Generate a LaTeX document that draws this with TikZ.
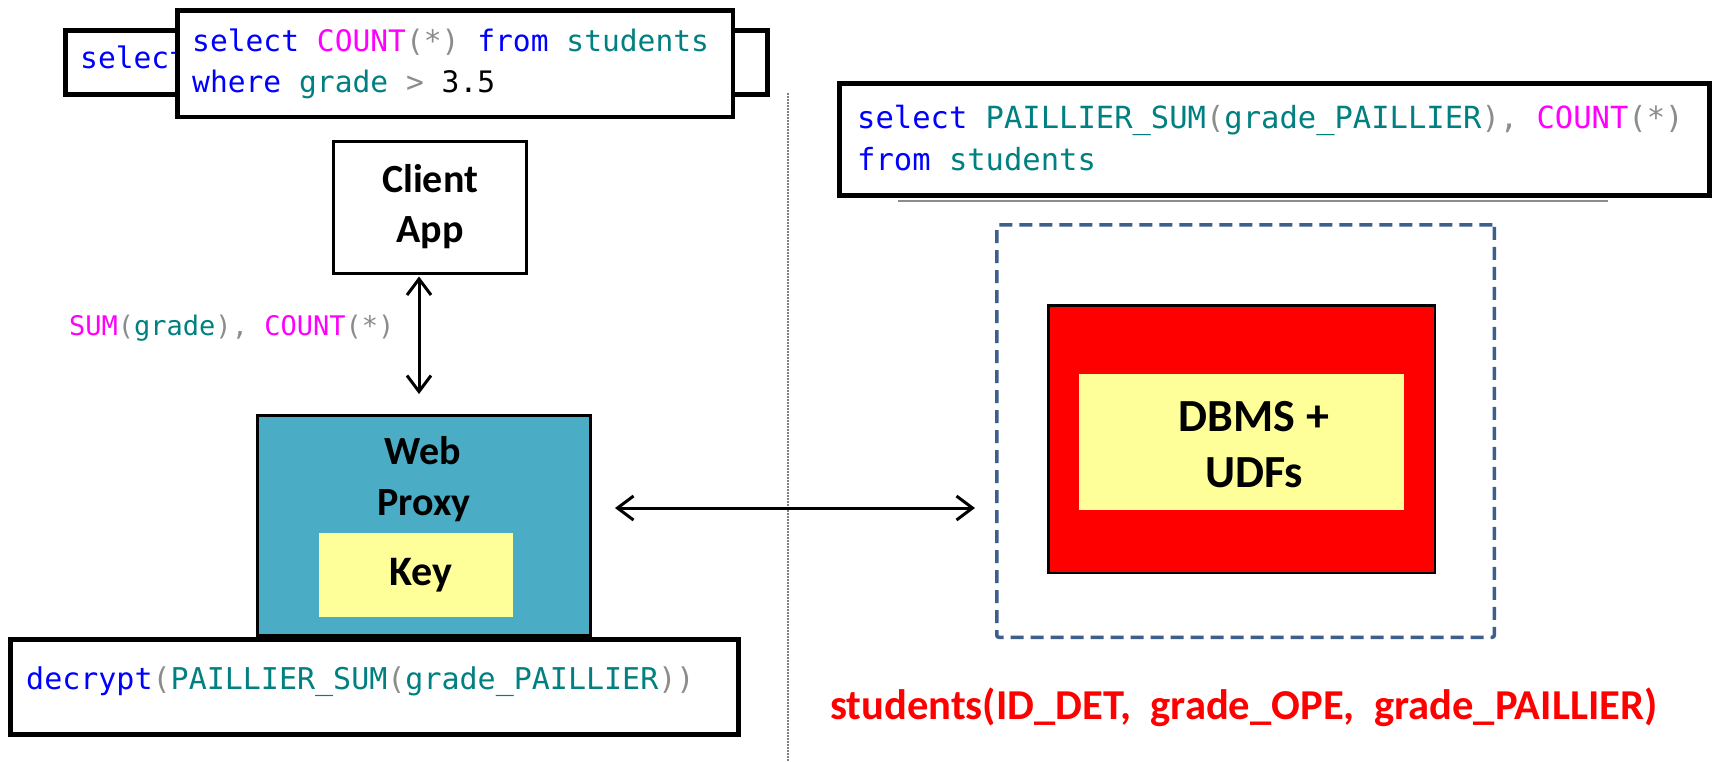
\documentclass[tikz,border=0pt]{standalone}
\usepackage{fontspec}
\setmainfont{Carlito}
\newfontfamily\codefont{DejaVu Sans Mono}
\usetikzlibrary{arrows.meta}
\definecolor{ckwc}{HTML}{0000FF}
\definecolor{cfnc}{HTML}{FF00FF}
\definecolor{cidc}{HTML}{008080}
\definecolor{cpuc}{HTML}{8C8C8C}
\definecolor{proxyc}{HTML}{4BACC6}
\definecolor{keyc}{HTML}{FFFF99}
\definecolor{dashc}{HTML}{3E5F8C}
\definecolor{redc}{HTML}{FF0000}
\newcommand{\ckw}[1]{\textcolor{ckwc}{#1}}
\newcommand{\cfn}[1]{\textcolor{cfnc}{#1}}
\newcommand{\cid}[1]{\textcolor{cidc}{#1}}
\newcommand{\cpu}[1]{\textcolor{cpuc}{#1}}
\tikzset{
  codebox/.style={draw=black, line width=5pt, fill=white, inner sep=0pt},
  plainbox/.style={draw=black, line width=3pt, fill=white, inner sep=0pt},
  codetext/.style={inner sep=0pt, font=\codefont\fontsize{29.6pt}{41pt}\selectfont},
  bigtext/.style={inner sep=0pt, align=center, font=\bfseries\fontsize{40pt}{50pt}\selectfont},
  dblarrow/.style={line width=3pt, {Straight Barb[length=16pt,width=24pt]}-{Straight Barb[length=16pt,width=24pt]}},
}
\begin{document}
\begin{tikzpicture}[x=1pt,y=-1pt]
\fill[white] (0,0) rectangle (1719,761);
\useasboundingbox (0,0) rectangle (1719,761);

% separator
\coordinate (sepTop) at (788,93);
\coordinate (sepBot) at (788,761);
\draw[gray, line width=1.2pt, dash pattern=on 1.5pt off 1.5pt] (sepTop) -- (sepBot);

% top-left query boxes
\node[codebox, minimum width=702pt, minimum height=64pt] (qback) at (416.5,62.5) {};
\node[codetext, anchor=base west] (qbackt) at (80,68) {\ckw{select}};
\node[codebox, line width=4.5pt, minimum width=555.5pt, minimum height=106.5pt] (qfront) at (455,63.5) {};
\node[codetext, anchor=base west] (qline1) at (192,51) {\ckw{select} \cfn{COUNT}\cpu{(*)} \ckw{from} \cid{students}};
\node[codetext, anchor=base west] (qline2) at (192,92) {\ckw{where} \cid{grade} \cpu{>} 3.5};

% client app
\node[plainbox, minimum width=193pt, minimum height=132pt, bigtext] (client) at (430,207) {Client\\App};

% label
\node[codetext, anchor=base west, font=\codefont\fontsize{27pt}{35pt}\selectfont] (sumlbl) at (69,335) {\cfn{SUM}\cpu{(}\cid{grade}\cpu{),} \cfn{COUNT}\cpu{(*)}};

% web proxy
\node[draw=black, line width=3pt, fill=proxyc, minimum width=333pt, minimum height=220pt, inner sep=0pt] (proxy) at (424,525.5) {};
\node[bigtext, anchor=base] (webt) at (423,464) {Web};
\node[bigtext, anchor=base] (proxyt) at (424,515) {Proxy};
\node[fill=keyc, minimum width=194pt, minimum height=84pt, inner sep=0pt, font=\bfseries\fontsize{42pt}{50pt}\selectfont] (key) at (416,575) {\hspace{10pt}Key};

% decrypt box
\node[codebox, minimum width=728pt, minimum height=95pt] (decbox) at (374.5,687) {};
\node[codetext, anchor=base west, font=\codefont\fontsize{30pt}{40pt}\selectfont] (dect) at (26,689) {\ckw{decrypt}\cpu{(}\cid{PAILLIER\_SUM}\cpu{(}\cid{grade\_PAILLIER}\cpu{))}};

% right query box
\draw[black!45, line width=1.5pt] (898,201) -- (1608,201);
\node[codebox, minimum width=870pt, minimum height=112pt] (rq) at (1274.5,139.5) {};
\node[codetext, anchor=base west, font=\codefont\fontsize{30.5pt}{42pt}\selectfont] (rq1) at (857,128) {\ckw{select} \cid{PAILLIER\_SUM}\cpu{(}\cid{grade\_PAILLIER}\cpu{),} \cfn{COUNT}\cpu{(*)}};
\node[codetext, anchor=base west, font=\codefont\fontsize{30.5pt}{42pt}\selectfont] (rq2) at (857,170) {\ckw{from} \cid{students}};

% trusted server
\node[draw=dashc, line width=3.5pt, dash pattern=on 13pt off 7pt, rounded corners=2pt, minimum width=497.5pt, minimum height=412.5pt, inner sep=0pt] (tee) at (1245.5,431) {};
\node[draw=black, line width=2.5pt, fill=redc, minimum width=386.5pt, minimum height=267.5pt, inner sep=0pt] (redbox) at (1241.5,439) {};
\node[fill=keyc, minimum width=325pt, minimum height=136pt, inner sep=0pt] (dbms) at (1241.5,442) {};
\node[inner sep=0pt, align=center, font=\bfseries\fontsize{46pt}{56pt}\selectfont] (dbmst) at (1254,445) {DBMS +\\UDFs};

\node[inner sep=0pt, anchor=base west, text=redc, font=\bfseries\fontsize{42.6pt}{50pt}\selectfont] (schema) at (830,719) {students(ID\_DET,\ \ grade\_OPE,\ \ grade\_PAILLIER)};

% connectors
\coordinate (ax) at (419,0);
\coordinate (ay) at (0,508);
\draw[dblarrow, shorten <=2pt, shorten >=20pt] (client.south -| ax) -- (proxy.north -| ax);
\draw[dblarrow, shorten <=23pt, shorten >=20pt] (proxy.east |- ay) -- (tee.west |- ay);
\end{tikzpicture}
\end{document}
